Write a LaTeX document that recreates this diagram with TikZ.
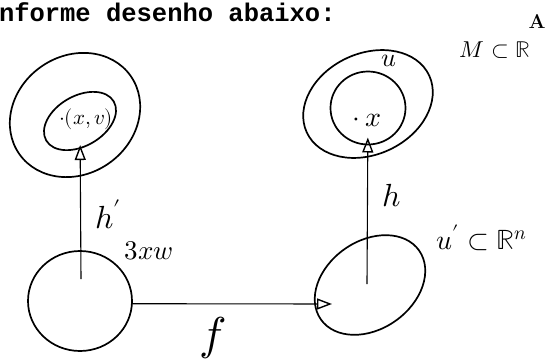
\documentclass[tikz,border=0pt]{standalone}
\usepackage{fontspec}
\usepackage{unicode-math}
\setmathfont{Latin Modern Math}
\usetikzlibrary{arrows.meta,shapes.geometric}
\newfontfamily\monofnt{Liberation Mono}
\begin{document}
\begin{tikzpicture}[x=1pt,y=-1pt,
  oval/.style={draw,ellipse,line width=1.7pt,inner sep=0pt,outer sep=0pt},
  conn/.style={line width=1.1pt,-{Triangle[open,length=15pt,width=11pt,line width=1.4pt]}},
  lbl/.style={inner sep=0pt,outer sep=0pt},
  fs/.style={font=\fontsize{#1}{#1}\selectfont}]
\useasboundingbox (0,0) rectangle (547,362);
% title
\node[lbl,anchor=base west,font=\monofnt\bfseries\fontsize{25.5}{28}\selectfont] (title) at (-1,21) {nforme desenho abaixo:};
\node[lbl,fs=23] (M) at (495,50) {$M\subset\mathbb{R}$};
\node[lbl,fs=20] (Asup) at (537,21) {$\mathbf{A}$};
% top-left ovals
\node[oval,minimum width=136pt,minimum height=118pt,rotate=35] (outL) at (75,115) {};
\node[oval,minimum width=78pt,minimum height=50pt,rotate=30] (inL) at (80,121) {};
\node[lbl,fs=21] (xv) at (86,119) {$\cdot(x,v)$};
% top-right ovals
\node[oval,minimum width=135pt,minimum height=101pt,rotate=25] (outR) at (368,104) {};
\node[oval,minimum width=75pt,minimum height=73pt] (inR) at (368,108) {};
\node[lbl,fs=28] (x) at (367,120) {$\cdot\, x$};
\node[lbl,fs=26] (u) at (389,61) {$u$};
% bottom ovals
\node[oval,minimum width=104pt,minimum height=100pt] (bL) at (80,301) {};
\node[oval,minimum width=120pt,minimum height=88pt,rotate=35] (bR) at (370,285) {};
% connectors
\coordinate (pL) at (81,279);
\coordinate (pR) at (367,284);
\coordinate (fB) at (332,304);
\draw[conn,shorten >=-3pt] (pL) -- (inL);
\draw[conn,shorten >=-7pt] (pR) -- (inR);
\draw[conn] (bL.-3) -- (fB);
% labels
\node[lbl,fs=32] (hp) at (108,214) {$h^{\prime}$};
\node[lbl,fs=32] (h) at (392,196) {$h$};
\node[lbl,fs=27] (w) at (149,251) {$3xw$};
\node[lbl,fs=46] (f) at (213,338) {$f$};
\node[lbl,fs=28] (U) at (482,238) {$u^{\prime}\subset\mathbb{R}^{n}$};
\end{tikzpicture}
\end{document}
